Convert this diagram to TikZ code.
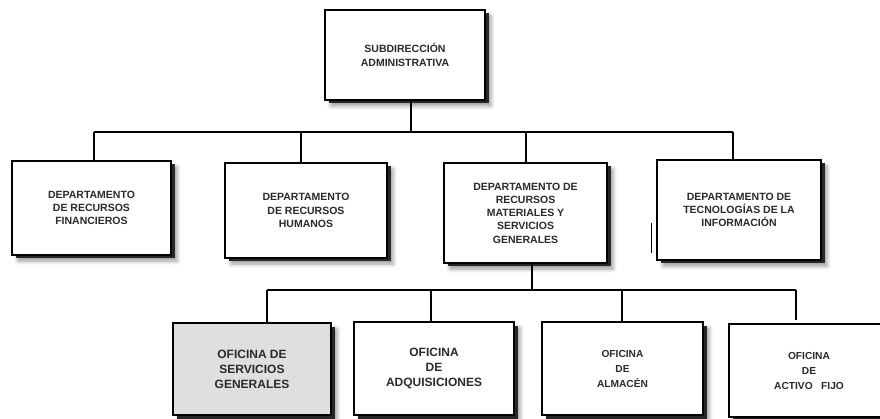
\documentclass[tikz,border=0pt]{standalone}
\usepackage{fontspec}
\setmainfont{Liberation Sans}
\usetikzlibrary{shadows,shadows.blur}
\definecolor{boxgrey}{HTML}{DFDFDF}
\definecolor{inkgrey}{HTML}{2A2A2A}

\begin{document}
\begin{tikzpicture}[x=1pt,y=-1pt,line width=1.2pt,
  orgbox/.style={
    draw=black,
    line width=1.7pt,
    fill=white,
    inner sep=2pt,
    align=center,
    text=inkgrey,
    font=\bfseries\fontsize{10.5}{13.3}\selectfont,
    blur shadow={shadow xshift=6pt,shadow yshift=-6pt,shadow blur radius=4pt,shadow opacity=40},
    drop shadow={shadow xshift=3.5pt,shadow yshift=-3.5pt,fill=black!85,opacity=1}
  },
  bigtext/.style={font=\bfseries\fontsize{12}{15}\selectfont},
  smalltext/.style={font=\bfseries\fontsize{10.2}{15}\selectfont}
]
  \useasboundingbox (0,0) rectangle (880,419);
  \clip (0,0) rectangle (880,419);

  \node[orgbox, minimum width=160pt, minimum height=90pt] (sub) at (405,55)
    {SUBDIRECCIÓN\\ADMINISTRATIVA};

  \node[orgbox, minimum width=159pt, minimum height=94pt] (fin) at (91.5,208)
    {DEPARTAMENTO\\DE RECURSOS\\FINANCIEROS};
  \node[orgbox, minimum width=162pt, minimum height=95pt] (hum) at (306,210.5)
    {DEPARTAMENTO\\DE RECURSOS\\HUMANOS};
  \node[orgbox, minimum width=163pt, minimum height=100pt] (mat) at (525.5,213)
    {DEPARTAMENTO DE\\RECURSOS\\MATERIALES Y\\SERVICIOS\\GENERALES};
  \node[orgbox, minimum width=164pt, minimum height=100pt] (tec) at (739,210)
    {DEPARTAMENTO DE\\TECNOLOGÍAS DE LA\\INFORMACIÓN};

  \node[orgbox, bigtext, fill=boxgrey, minimum width=158pt, minimum height=92pt] (ser) at (252,369)
    {OFICINA DE\\SERVICIOS\\GENERALES};
  \node[orgbox, bigtext, minimum width=160pt, minimum height=93pt] (adq) at (434,368.5)
    {OFICINA\\DE\\ADQUISICIONES};
  \node[orgbox, smalltext, minimum width=161pt, minimum height=93pt] (alm) at (622.5,368.5)
    {OFICINA\\DE\\ALMACÉN};
  \node[orgbox, smalltext, minimum width=160pt, minimum height=93pt] (act) at (809,370.5)
    {OFICINA\\DE\\ACTIVO\ \ \ FIJO};

  \coordinate (c0) at (411,132);
  \coordinate (c1) at (94,132);
  \coordinate (c2) at (301,132);
  \coordinate (c3) at (526,132);
  \coordinate (c4) at (733,132);
  \draw (c0 |- sub.south) -- (c0);
  \draw (c1) -- (c4);
  \draw (c1) -- (c1 |- fin.north);
  \draw (c2) -- (c2 |- hum.north);
  \draw (c3) -- (c3 |- mat.north);
  \draw (c4) -- (c4 |- tec.north);

  \coordinate (d0) at (532,290);
  \coordinate (d1) at (267,290);
  \coordinate (d2) at (431,290);
  \coordinate (d3) at (622,290);
  \coordinate (d4) at (796,290);
  \draw (d0 |- mat.south) -- (d0);
  \draw (d1) -- (d4);
  \draw (d1) -- (d1 |- ser.north);
  \draw (d2) -- (d2 |- adq.north);
  \draw (d3) -- (d3 |- alm.north);
  \draw (d4) -- ([yshift=3pt]d4 |- act.north);

  \draw[line width=0.8pt] (651,223) -- (651,253);
\end{tikzpicture}
\end{document}
